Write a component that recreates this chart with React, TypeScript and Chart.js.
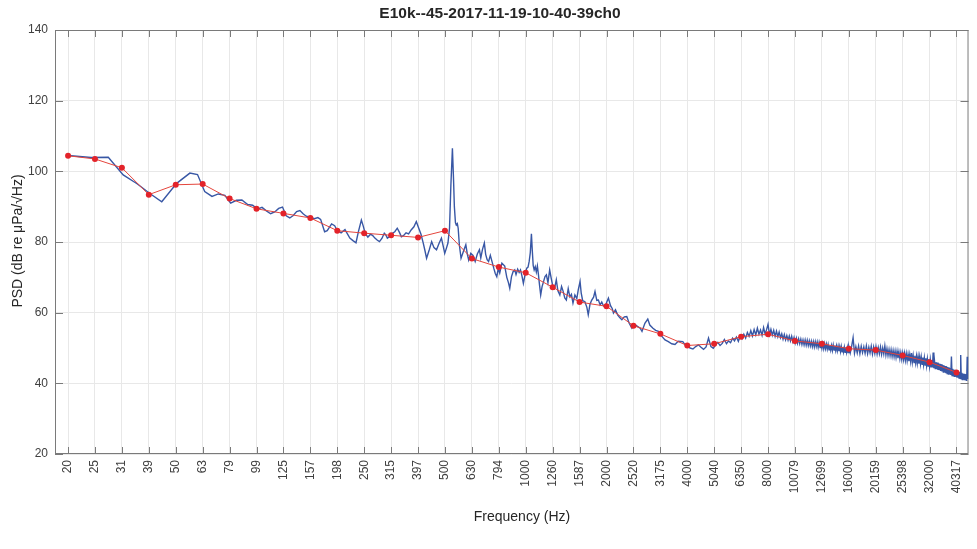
import { useEffect, useRef } from "react";
import { Chart, registerables } from "chart.js";

Chart.register(...registerables);

const chartTitle = "E10k--45-2017-11-19-10-40-39ch0";
const xAxisTitle = "Frequency (Hz)";
const yAxisTitle = "PSD (dB re \u03BCPa/\u221AHz)";

// Third-octave band centre frequencies (Hz) and their printed labels
const bandCentresHz = [
  19.69, 24.8, 31.25, 39.37, 49.61, 62.5, 78.75, 99.21, 125, 157.49, 198.43,
  250, 314.98, 396.85, 500, 629.96, 793.7, 1000, 1259.92, 1587.4, 2000,
  2519.84, 3174.8, 4000, 5039.68, 6349.6, 8000, 10079.37, 12699.21, 16000,
  20158.74, 25398.42, 32000, 40317.47,
];
const bandLabels = [
  "20", "25", "31", "39", "50", "63", "79", "99", "125", "157", "198", "250",
  "315", "397", "500", "630", "794", "1000", "1260", "1587", "2000", "2520",
  "3175", "4000", "5040", "6350", "8000", "10079", "12699", "16000", "20159",
  "25398", "32000", "40317",
];

// Third-octave band levels (dB)
const bandLevels = [
  104.4, 103.5, 101.0, 93.4, 96.2, 96.4, 92.3, 89.4, 88.1, 86.8, 83.2, 82.5,
  81.9, 81.3, 83.2, 75.3, 72.9, 71.3, 67.2, 63.0, 61.8, 56.3, 54.0, 50.7, 51.2,
  53.2, 53.9, 52.0, 51.2, 49.8, 49.4, 47.9, 46.0, 43.1,
];

// Narrow-band PSD below 4 kHz: [frequency Hz, level dB]
const psdLowBand: [number, number][] = [
  [19.7, 104.5], [24, 103.9], [27.8, 104.0], [31.6, 99.0], [35.6, 96.5],
  [39.6, 93.8], [44, 91.4], [50, 96.6], [56, 99.5], [59.8, 99.1], [63.6, 94.3],
  [67.7, 92.9], [71.5, 93.6], [75.6, 93.2], [79.5, 91.0], [83.5, 91.8],
  [87.5, 91.9], [92, 90.6], [96, 90.4], [100, 89.3], [104, 89.8], [108, 88.8],
  [112, 88.0], [116, 88.5], [120, 89.5], [124, 89.9], [128, 87.4], [132, 86.8],
  [136, 87.5], [140, 88.6], [144, 88.9], [148, 88.0], [152, 87.3], [157, 87.0],
  [163, 86.6], [168, 86.9], [172, 86.4], [178, 82.9], [182, 83.2], [189, 85.1],
  [194, 84.6], [198, 83.4], [205, 82.6], [212, 83.5], [221, 81.1], [227, 80.4],
  [233, 79.8], [238, 83.0], [244, 86.2], [248, 84.5], [252, 82.5], [258, 81.4],
  [264, 82.2], [269, 81.8], [274, 81.1], [280, 80.5], [285, 80.1], [291, 81.0],
  [297, 82.5], [301, 82.0], [305, 81.1], [312, 81.6], [318, 82.4], [325, 82.9],
  [332, 83.9], [338, 82.8], [344, 81.5], [350, 81.8], [358, 82.6], [366, 82.3],
  [374, 83.4], [383, 84.3], [391, 85.8], [398, 84.2], [407, 82.2], [415, 79.7],
  [421, 77.6], [427, 75.4], [437, 77.8], [446, 80.1], [455, 78.4], [465, 77.8],
  [475, 79.6], [485, 81.1], [492, 79.0], [499, 76.8], [506, 78.2], [513, 79.7],
  [520, 84.0], [526, 96.0], [533, 106.5], [538, 98.0], [542, 90.0], [547, 85.5],
  [551, 84.8], [556, 85.2], [560, 83.9], [566, 79.0], [574, 75.4], [586, 77.4],
  [598, 79.2], [606, 76.5], [613, 74.9], [624, 76.8], [636, 76.2], [648, 74.5],
  [660, 76.6], [672, 77.8], [680, 75.5], [690, 77.9], [701, 79.7], [709, 76.5],
  [718, 75.0], [727, 74.5], [738, 76.2], [748, 74.6], [760, 72.6], [770, 71.1],
  [780, 70.2], [790, 72.5], [800, 71.2], [815, 74.0], [835, 73.2], [850, 70.0],
  [862, 68.5], [872, 66.9], [885, 70.2], [897, 71.6], [910, 72.1], [920, 70.8],
  [933, 72.3], [945, 71.4], [956, 72.1], [968, 70.4], [980, 68.3], [995, 70.9],
  [1009, 72.6], [1020, 72.9], [1030, 74.5], [1040, 77.0], [1050, 82.3],
  [1058, 77.5], [1066, 73.4], [1075, 72.1], [1085, 73.0], [1095, 71.5],
  [1105, 73.2], [1115, 70.8], [1125, 68.0], [1137, 65.0], [1150, 67.3],
  [1165, 68.8], [1180, 70.2], [1194, 70.7], [1210, 68.5], [1228, 72.1],
  [1245, 69.6], [1262, 67.4], [1280, 66.8], [1300, 69.3], [1318, 66.2],
  [1340, 65.0], [1360, 67.4], [1378, 66.1], [1398, 64.2], [1417, 63.6],
  [1440, 66.8], [1460, 64.5], [1480, 65.2], [1500, 62.7], [1525, 65.0],
  [1550, 64.0], [1570, 66.5], [1594, 68.8], [1610, 65.5], [1630, 63.4],
  [1662, 63.1], [1690, 61.5], [1710, 59.4], [1735, 62.3], [1760, 63.5],
  [1790, 64.4], [1812, 66.0], [1840, 63.5], [1866, 63.6], [1893, 62.2],
  [1920, 63.0], [1950, 61.9], [1977, 61.7], [2005, 63.0], [2033, 64.1],
  [2070, 62.0], [2100, 61.2], [2123, 59.9], [2160, 60.8], [2200, 59.4],
  [2240, 58.6], [2282, 58.0], [2330, 58.8], [2380, 58.9], [2430, 57.0],
  [2487, 55.6], [2540, 56.7], [2600, 56.2], [2670, 55.6], [2712, 54.7],
  [2780, 57.0], [2850, 58.2], [2900, 56.5], [2980, 55.6], [3050, 55.0],
  [3123, 54.7], [3200, 53.5], [3305, 52.3], [3400, 51.8], [3500, 51.2],
  [3600, 51.0], [3700, 51.9], [3850, 51.8], [3950, 50.6],
];

// Narrow-band PSD, 4 kHz to 16 kHz, one level per 100 Hz bin (dB)
const psdMidStartHz = 4000;
const psdMidBinHz = 100;
const psdMidLevels = [
  50.5, 50.0, 49.7, 50.4, 50.9, 50.2, 49.6, 50.3, 52.8, 50.4,
  49.9, 50.9, 51.6, 50.7, 51.3, 52.4, 51.2, 52.0, 51.5, 52.8,
  52.0, 53.1, 51.9, 53.4, 52.6, 53.9, 52.8, 54.4, 53.3, 54.9,
  53.4, 55.2, 53.7, 55.6, 53.9, 55.1, 53.6, 55.8, 54.0, 55.2,
  56.7, 53.8, 55.3, 53.6, 55.0, 53.3, 54.8, 53.2, 54.5, 52.9,
  54.0, 52.5, 53.8, 52.3, 53.5, 52.2, 53.4, 52.0, 53.3, 51.8,
  53.0, 51.4, 52.8, 51.3, 52.6, 51.2, 52.5, 51.0, 52.3, 50.9,
  52.3, 50.8, 52.2, 50.7, 52.0, 50.6, 51.9, 50.4, 51.8, 50.3,
  51.8, 50.4, 51.7, 50.2, 51.6, 50.1, 51.4, 49.9, 51.3, 49.8,
  51.2, 49.8, 51.1, 49.7, 51.0, 49.5, 50.8, 49.4, 50.7, 49.3,
  50.8, 49.4, 50.7, 49.3, 50.6, 49.2, 50.5, 49.1, 50.4, 49.0,
  50.4, 48.9, 50.3, 48.9, 50.2, 48.8, 50.2, 48.8, 50.1, 48.7,
  50.4,
];

// Narrow-band PSD, 16.2 kHz upward, one level per 200 Hz bin (dB)
const psdHighStartHz = 16200;
const psdHighBinHz = 200;
const psdHighLevels = [
  48.6, 50.5, 52.9, 48.5, 50.4, 48.6, 50.6, 48.4, 50.5, 48.7,
  50.3, 48.5, 50.6, 48.4, 50.2, 48.6, 50.5, 48.3, 50.3, 48.5,
  50.4, 48.3, 50.1, 48.4, 50.3, 48.2, 50.0, 48.3, 50.6, 48.0,
  49.8, 47.9, 49.6, 47.8, 49.5, 47.6, 49.3, 47.5, 49.2, 47.3,
  49.1, 47.1, 48.9, 47.0, 48.7, 46.8, 48.6, 46.7, 48.5, 46.5,
  48.4, 46.4, 48.2, 46.3, 48.1, 46.2, 48.6, 46.0, 47.9, 45.9,
  47.8, 45.8, 47.7, 45.7, 47.6, 45.6, 47.5, 45.5, 47.4, 45.4,
  47.3, 45.3, 47.2, 45.2, 47.1, 45.0, 46.9, 44.9, 46.8, 44.8,
  46.7, 44.7, 46.5, 44.5, 48.7, 44.3, 46.2, 44.2, 46.0, 44.0,
  45.9, 43.8, 45.7, 43.7, 45.5, 43.5, 45.4, 43.4, 45.2, 43.2,
  45.1, 43.1, 44.9, 42.9, 44.8, 42.8, 44.6, 42.6, 44.5, 42.5,
  44.3, 42.4, 47.6, 42.2, 44.1, 42.1, 43.9, 42.0, 43.8, 41.9,
  43.6, 41.7, 43.5, 41.6, 43.3, 41.5, 43.2, 41.4, 48.0, 41.3,
  43.0, 41.1, 42.8, 41.0, 42.7, 40.9, 42.6, 40.8, 42.4, 40.7,
  47.5, 41.2,
];

const yTicks = [20, 40, 60, 80, 100, 120, 140];

const FONT = "'Liberation Sans', Arial, Helvetica, sans-serif";
const TEXT_COLOR = "#262626";
const AXIS_COLOR = "#7a7a7a";
const GRID_COLOR = "#e8e8e8";

// Box around the axes, inward tick marks and the three text labels
const framePlugin = {
  id: "matlabFrame",
  beforeDatasetsDraw(chart: any) {
    const { ctx, chartArea } = chart;
    const { left, right, top, bottom } = chartArea;
    const xs = chart.scales.x;
    const ys = chart.scales.y;
    ctx.save();
    ctx.strokeStyle = AXIS_COLOR;
    ctx.lineWidth = 1;
    ctx.beginPath();
    for (const f of bandCentresHz) {
      const px = Math.round(xs.getPixelForValue(f)) + 0.5;
      ctx.moveTo(px, bottom);
      ctx.lineTo(px, bottom - 7);
      ctx.moveTo(px, top);
      ctx.lineTo(px, top + 7);
    }
    for (const v of yTicks) {
      const py = Math.round(ys.getPixelForValue(v)) + 0.5;
      ctx.moveTo(left, py);
      ctx.lineTo(left + 8, py);
      ctx.moveTo(right, py);
      ctx.lineTo(right - 8, py);
    }
    ctx.stroke();
    ctx.strokeRect(left + 0.5, top + 0.5, right - left - 1, bottom - top - 1);
    ctx.restore();
  },
  afterDraw(chart: any) {
    const { ctx } = chart;
    ctx.save();
    ctx.fillStyle = TEXT_COLOR;
    ctx.textAlign = "center";
    ctx.textBaseline = "middle";
    ctx.font = `bold 15.5px ${FONT}`;
    ctx.fillText(chartTitle, 500, 14);
    ctx.font = `14px ${FONT}`;
    ctx.fillText(xAxisTitle, 522, 517);
    ctx.translate(18, 241);
    ctx.rotate(-Math.PI / 2);
    ctx.fillText(yAxisTitle, 0, 0);
    ctx.restore();
  },
};

export default function App() {
  const canvasRef = useRef<HTMLCanvasElement | null>(null);

  useEffect(() => {
    if (!canvasRef.current) return;
    document.body.style.margin = "0";

    const psdPoints = [
      ...psdLowBand.map(([f, v]) => ({ x: f, y: v })),
      ...psdMidLevels.map((v, i) => ({ x: psdMidStartHz + i * psdMidBinHz, y: v })),
      ...psdHighLevels.map((v, i) => ({ x: psdHighStartHz + i * psdHighBinHz, y: v })),
    ];
    const bandPoints = bandCentresHz.map((f, i) => ({ x: f, y: bandLevels[i] }));

    const chart = new Chart(canvasRef.current, {
      type: "line",
      data: {
        datasets: [
          {
            label: "Third-octave level",
            data: bandPoints,
            order: 0,
            borderColor: "#e4453c",
            borderWidth: 1,
            pointRadius: 3,
            pointBackgroundColor: "#e3232a",
            pointBorderWidth: 0,
            tension: 0,
          },
          {
            label: "PSD",
            data: psdPoints,
            order: 1,
            borderColor: "#3857a5",
            borderWidth: 1.4,
            pointRadius: 0,
            tension: 0,
          },
        ],
      },
      plugins: [framePlugin],
      options: {
        responsive: false,
        animation: false,
        devicePixelRatio: 1,
        layout: { padding: { left: 0, top: 30, right: 8, bottom: 0 } },
        plugins: {
          legend: { display: false },
          tooltip: { enabled: false },
          title: { display: false },
        },
        scales: {
          x: {
            type: "logarithmic",
            min: 17.6,
            max: 44700,
            afterFit: (scale: any) => {
              scale.height = 95;
            },
            afterBuildTicks: (scale: any) => {
              scale.ticks = bandCentresHz.map((v) => ({ value: v }));
            },
            border: { display: false },
            grid: { color: GRID_COLOR, drawTicks: false },
            ticks: {
              autoSkip: false,
              minRotation: 90,
              maxRotation: 90,
              padding: 6,
              color: "#404040",
              font: { family: FONT, size: 12 },
              callback: (_v: any, i: number) => bandLabels[i],
            },
          },
          y: {
            type: "linear",
            min: 20,
            max: 140,
            afterFit: (scale: any) => {
              scale.width = 55;
            },
            afterBuildTicks: (scale: any) => {
              scale.ticks = yTicks.map((v) => ({ value: v }));
            },
            border: { display: false },
            grid: { color: GRID_COLOR, drawTicks: false },
            ticks: {
              padding: 7,
              color: "#404040",
              font: { family: FONT, size: 12 },
            },
          },
        },
      },
    });
    return () => chart.destroy();
  }, []);

  return (
    <div style={{ position: "absolute", left: 0, top: 0, width: 977, height: 549, background: "#fff" }}>
      <canvas ref={canvasRef} width={977} height={549} />
    </div>
  );
}
